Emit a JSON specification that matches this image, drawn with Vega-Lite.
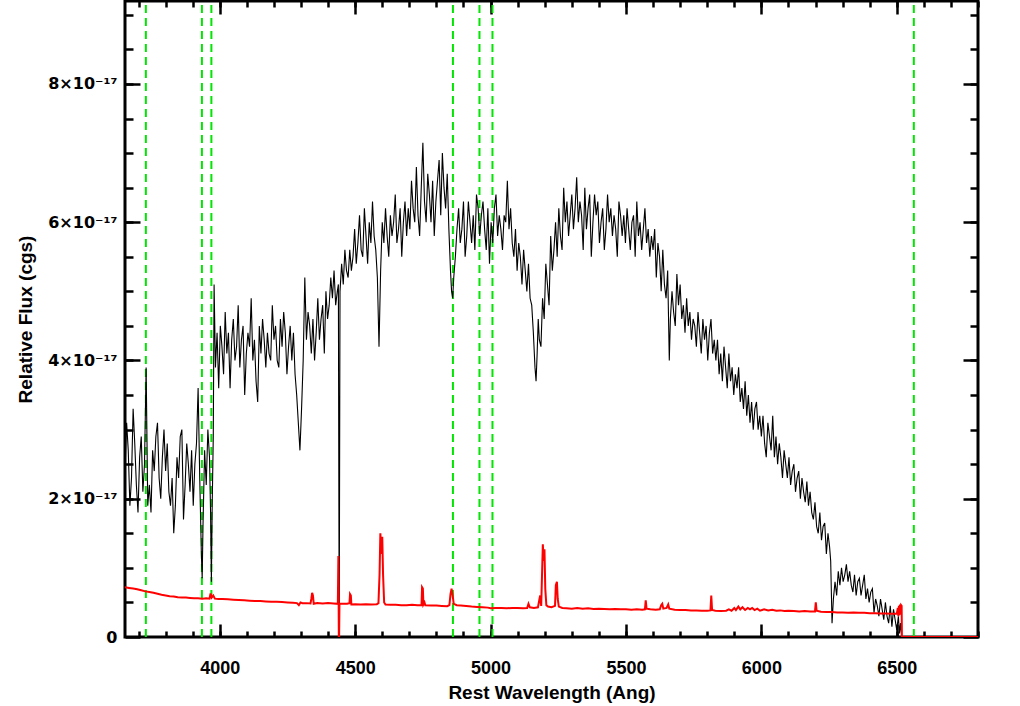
{
"$schema": "https://vega.github.io/schema/vega-lite/v6.json",
"width": 853,
"height": 636,
"autosize": "none",
"padding": {"left": 125, "top": 1, "right": 42, "bottom": 69},
"background": "white",
"config": {
"view": {"stroke": "black", "strokeWidth": 3},
"axis": {"domain": false, "grid": false, "tickColor": "black", "tickWidth": 2.5, "labelFont": "Liberation Sans", "labelFontWeight": "bold", "labelFontSize": 18, "labelColor": "black", "titleFont": "Liberation Sans", "titleFontWeight": "bold", "titleFontSize": 19, "titleColor": "black", "labelFlush": false, "labelOverlap": false}
},
"datasets": {
"lines": [{"w":3727},{"w":3934},{"w":3969},{"w":4861},{"w":4959},{"w":5007},{"w":6563}],
"spec": [
{"w":3650,"f":2.4},{"w":3656,"f":3.1},{"w":3662,"f":2.7},{"w":3668,"f":1.9},{"w":3674,"f":2.3},{"w":3680,"f":3.3},{"w":3686,"f":2.8},{"w":3692,"f":2.2},{"w":3698,"f":1.8},{"w":3704,"f":2.6},
{"w":3710,"f":2.9},{"w":3716,"f":2.1},{"w":3722,"f":2.5},{"w":3728,"f":3.9},{"w":3734,"f":1.9},{"w":3740,"f":2.2},{"w":3746,"f":1.8},{"w":3752,"f":2.7},{"w":3758,"f":2.4},{"w":3764,"f":2.9},
{"w":3770,"f":3.1},{"w":3776,"f":2.3},{"w":3782,"f":2.0},{"w":3788,"f":2.6},{"w":3794,"f":3.0},{"w":3800,"f":2.4},{"w":3806,"f":2.8},{"w":3812,"f":2.1},{"w":3818,"f":1.9},{"w":3824,"f":2.3},
{"w":3830,"f":1.5},{"w":3836,"f":1.9},{"w":3842,"f":2.6},{"w":3848,"f":2.3},{"w":3854,"f":2.9},{"w":3860,"f":3.0},{"w":3866,"f":1.7},{"w":3872,"f":2.2},{"w":3878,"f":2.8},{"w":3884,"f":2.5},
{"w":3890,"f":2.1},{"w":3896,"f":2.7},{"w":3902,"f":1.9},{"w":3908,"f":2.5},{"w":3914,"f":2.8},{"w":3920,"f":3.6},{"w":3926,"f":2.3},{"w":3932,"f":1.2},{"w":3935,"f":0.85},{"w":3938,"f":1.6},
{"w":3944,"f":2.7},{"w":3950,"f":2.2},{"w":3956,"f":3.0},{"w":3962,"f":2.6},{"w":3966,"f":1.8},{"w":3969,"f":0.8},{"w":3972,"f":1.9},{"w":3976,"f":2.9},{"w":3979,"f":5.1},{"w":3984,"f":3.9},
{"w":3990,"f":4.4},{"w":3996,"f":3.6},{"w":4002,"f":4.5},{"w":4008,"f":4.2},{"w":4014,"f":3.8},{"w":4020,"f":4.7},{"w":4026,"f":4.1},{"w":4032,"f":4.4},{"w":4038,"f":3.6},{"w":4044,"f":4.3},
{"w":4050,"f":4.6},{"w":4056,"f":4.0},{"w":4062,"f":4.2},{"w":4068,"f":4.8},{"w":4074,"f":3.9},{"w":4080,"f":4.3},{"w":4086,"f":4.5},{"w":4092,"f":3.5},{"w":4098,"f":4.1},{"w":4104,"f":4.4},
{"w":4110,"f":4.2},{"w":4116,"f":4.9},{"w":4122,"f":4.0},{"w":4128,"f":4.3},{"w":4134,"f":3.7},{"w":4140,"f":3.4},{"w":4146,"f":4.5},{"w":4152,"f":4.1},{"w":4158,"f":4.6},{"w":4164,"f":4.3},
{"w":4170,"f":3.9},{"w":4176,"f":4.4},{"w":4182,"f":4.1},{"w":4188,"f":4.0},{"w":4194,"f":4.8},{"w":4200,"f":4.3},{"w":4206,"f":4.5},{"w":4212,"f":4.0},{"w":4218,"f":3.9},{"w":4224,"f":4.6},
{"w":4230,"f":4.2},{"w":4236,"f":4.7},{"w":4242,"f":4.4},{"w":4248,"f":3.8},{"w":4254,"f":4.2},{"w":4260,"f":4.5},{"w":4266,"f":4.0},{"w":4272,"f":4.4},{"w":4278,"f":3.8},{"w":4284,"f":3.5},
{"w":4290,"f":3.1},{"w":4296,"f":2.7},{"w":4302,"f":3.3},{"w":4308,"f":4.0},{"w":4314,"f":5.2},{"w":4320,"f":4.3},{"w":4326,"f":4.7},{"w":4332,"f":4.5},{"w":4338,"f":4.1},{"w":4344,"f":4.6},
{"w":4350,"f":4.0},{"w":4356,"f":4.4},{"w":4362,"f":4.9},{"w":4368,"f":4.3},{"w":4374,"f":4.6},{"w":4380,"f":4.8},{"w":4386,"f":4.1},{"w":4392,"f":5.0},{"w":4398,"f":4.6},{"w":4404,"f":4.8},
{"w":4410,"f":5.2},{"w":4416,"f":4.9},{"w":4422,"f":5.3},{"w":4428,"f":4.8},{"w":4434,"f":5.0},{"w":4438,"f":5.1},{"w":4441,"f":0.0},{"w":4444,"f":5.0},{"w":4450,"f":5.4},{"w":4456,"f":5.1},
{"w":4462,"f":5.6},{"w":4468,"f":5.3},{"w":4474,"f":5.2},{"w":4480,"f":5.6},{"w":4486,"f":5.3},{"w":4492,"f":5.5},{"w":4498,"f":5.9},{"w":4504,"f":5.4},{"w":4510,"f":5.7},{"w":4516,"f":6.1},
{"w":4522,"f":5.6},{"w":4528,"f":5.5},{"w":4534,"f":6.2},{"w":4540,"f":5.8},{"w":4546,"f":5.4},{"w":4552,"f":6.0},{"w":4558,"f":5.7},{"w":4564,"f":6.3},{"w":4570,"f":5.8},{"w":4576,"f":5.6},
{"w":4582,"f":5.2},{"w":4588,"f":4.2},{"w":4594,"f":5.3},{"w":4600,"f":6.0},{"w":4606,"f":5.7},{"w":4612,"f":6.2},{"w":4618,"f":5.8},{"w":4624,"f":5.5},{"w":4630,"f":6.1},{"w":4636,"f":5.8},
{"w":4642,"f":6.0},{"w":4648,"f":6.4},{"w":4654,"f":5.7},{"w":4660,"f":5.9},{"w":4666,"f":6.2},{"w":4672,"f":5.5},{"w":4678,"f":6.0},{"w":4684,"f":6.3},{"w":4690,"f":5.8},{"w":4696,"f":6.2},
{"w":4702,"f":5.9},{"w":4708,"f":6.6},{"w":4714,"f":6.2},{"w":4720,"f":6.0},{"w":4726,"f":6.8},{"w":4732,"f":6.1},{"w":4738,"f":5.8},{"w":4744,"f":6.5},{"w":4750,"f":7.15},{"w":4756,"f":6.3},
{"w":4762,"f":6.0},{"w":4768,"f":6.7},{"w":4774,"f":6.4},{"w":4780,"f":6.0},{"w":4786,"f":6.6},{"w":4792,"f":5.8},{"w":4798,"f":6.3},{"w":4804,"f":6.6},{"w":4810,"f":6.9},{"w":4816,"f":6.1},
{"w":4822,"f":7.0},{"w":4828,"f":6.5},{"w":4834,"f":6.2},{"w":4840,"f":6.7},{"w":4846,"f":5.9},{"w":4852,"f":5.3},{"w":4856,"f":5.0},{"w":4860,"f":4.9},{"w":4864,"f":5.2},{"w":4870,"f":5.5},
{"w":4876,"f":5.9},{"w":4882,"f":6.2},{"w":4888,"f":5.7},{"w":4894,"f":5.9},{"w":4900,"f":6.3},{"w":4906,"f":5.5},{"w":4912,"f":5.8},{"w":4918,"f":6.3},{"w":4924,"f":6.0},{"w":4930,"f":5.7},
{"w":4936,"f":6.1},{"w":4942,"f":5.6},{"w":4948,"f":6.4},{"w":4954,"f":6.2},{"w":4960,"f":5.8},{"w":4966,"f":6.1},{"w":4972,"f":6.3},{"w":4978,"f":5.9},{"w":4984,"f":5.6},{"w":4990,"f":6.2},
{"w":4996,"f":5.4},{"w":5002,"f":6.0},{"w":5008,"f":5.7},{"w":5014,"f":6.2},{"w":5020,"f":6.4},{"w":5026,"f":5.8},{"w":5032,"f":6.1},{"w":5038,"f":5.9},{"w":5044,"f":5.6},{"w":5050,"f":6.1},
{"w":5056,"f":6.0},{"w":5062,"f":6.6},{"w":5068,"f":5.9},{"w":5074,"f":6.2},{"w":5080,"f":5.7},{"w":5086,"f":5.5},{"w":5092,"f":5.9},{"w":5098,"f":5.3},{"w":5104,"f":5.7},{"w":5110,"f":5.5},
{"w":5116,"f":5.1},{"w":5122,"f":5.6},{"w":5128,"f":5.3},{"w":5134,"f":5.0},{"w":5140,"f":5.4},{"w":5146,"f":4.9},{"w":5152,"f":4.8},{"w":5158,"f":4.4},{"w":5164,"f":3.9},{"w":5168,"f":3.7},
{"w":5172,"f":4.1},{"w":5176,"f":4.6},{"w":5180,"f":4.3},{"w":5186,"f":4.2},{"w":5192,"f":4.9},{"w":5198,"f":4.6},{"w":5204,"f":5.4},{"w":5210,"f":5.1},{"w":5216,"f":4.8},{"w":5222,"f":5.8},
{"w":5228,"f":5.3},{"w":5234,"f":5.6},{"w":5240,"f":6.0},{"w":5246,"f":5.5},{"w":5252,"f":6.2},{"w":5258,"f":5.8},{"w":5264,"f":5.6},{"w":5270,"f":6.5},{"w":5276,"f":6.0},{"w":5282,"f":6.3},
{"w":5288,"f":5.8},{"w":5294,"f":6.1},{"w":5300,"f":6.4},{"w":5306,"f":5.9},{"w":5312,"f":6.2},{"w":5318,"f":6.65},{"w":5324,"f":6.0},{"w":5330,"f":6.3},{"w":5336,"f":6.1},{"w":5342,"f":5.6},
{"w":5348,"f":6.5},{"w":5354,"f":5.9},{"w":5360,"f":6.2},{"w":5366,"f":6.4},{"w":5372,"f":5.5},{"w":5378,"f":6.0},{"w":5384,"f":6.4},{"w":5390,"f":6.1},{"w":5396,"f":6.3},{"w":5402,"f":5.7},
{"w":5408,"f":6.0},{"w":5414,"f":6.2},{"w":5420,"f":5.6},{"w":5426,"f":5.9},{"w":5432,"f":6.4},{"w":5438,"f":6.0},{"w":5444,"f":6.2},{"w":5450,"f":5.8},{"w":5456,"f":6.1},{"w":5462,"f":5.9},
{"w":5468,"f":5.5},{"w":5474,"f":6.3},{"w":5480,"f":6.1},{"w":5486,"f":5.8},{"w":5492,"f":6.1},{"w":5498,"f":5.7},{"w":5504,"f":6.2},{"w":5510,"f":5.9},{"w":5516,"f":5.6},{"w":5522,"f":6.0},
{"w":5528,"f":6.1},{"w":5534,"f":5.5},{"w":5540,"f":6.3},{"w":5546,"f":5.8},{"w":5552,"f":6.0},{"w":5558,"f":5.6},{"w":5564,"f":5.9},{"w":5570,"f":6.2},{"w":5576,"f":5.7},{"w":5582,"f":5.9},
{"w":5588,"f":5.5},{"w":5594,"f":5.8},{"w":5600,"f":5.6},{"w":5606,"f":5.9},{"w":5612,"f":5.2},{"w":5618,"f":5.7},{"w":5624,"f":5.5},{"w":5630,"f":5.0},{"w":5636,"f":5.6},{"w":5642,"f":5.1},
{"w":5648,"f":4.9},{"w":5654,"f":5.3},{"w":5660,"f":4.0},{"w":5664,"f":4.6},{"w":5670,"f":5.0},{"w":5676,"f":4.7},{"w":5682,"f":4.5},{"w":5688,"f":5.25},{"w":5694,"f":4.8},{"w":5700,"f":5.1},
{"w":5706,"f":4.6},{"w":5712,"f":4.8},{"w":5718,"f":4.4},{"w":5724,"f":4.9},{"w":5730,"f":4.5},{"w":5736,"f":4.7},{"w":5742,"f":4.3},{"w":5748,"f":4.6},{"w":5754,"f":4.5},{"w":5760,"f":4.2},
{"w":5766,"f":4.7},{"w":5772,"f":4.4},{"w":5778,"f":4.1},{"w":5784,"f":4.6},{"w":5790,"f":4.3},{"w":5796,"f":4.5},{"w":5802,"f":4.0},{"w":5808,"f":4.4},{"w":5814,"f":4.6},{"w":5820,"f":4.1},
{"w":5826,"f":4.3},{"w":5832,"f":4.0},{"w":5838,"f":4.3},{"w":5844,"f":3.8},{"w":5850,"f":4.1},{"w":5856,"f":3.7},{"w":5862,"f":4.2},{"w":5868,"f":3.9},{"w":5874,"f":3.6},{"w":5880,"f":4.1},
{"w":5886,"f":3.7},{"w":5892,"f":3.9},{"w":5898,"f":3.5},{"w":5904,"f":3.8},{"w":5910,"f":3.6},{"w":5916,"f":3.9},{"w":5922,"f":3.4},{"w":5928,"f":3.6},{"w":5934,"f":3.3},{"w":5940,"f":3.7},
{"w":5946,"f":3.2},{"w":5952,"f":3.5},{"w":5958,"f":3.1},{"w":5964,"f":3.4},{"w":5970,"f":3.0},{"w":5976,"f":3.3},{"w":5982,"f":3.4},{"w":5988,"f":3.0},{"w":5994,"f":3.2},{"w":6000,"f":2.9},
{"w":6006,"f":3.2},{"w":6012,"f":2.8},{"w":6018,"f":2.6},{"w":6024,"f":3.1},{"w":6030,"f":2.9},{"w":6036,"f":2.7},{"w":6042,"f":3.2},{"w":6048,"f":2.6},{"w":6054,"f":2.9},{"w":6060,"f":2.5},
{"w":6066,"f":2.8},{"w":6072,"f":2.6},{"w":6078,"f":2.3},{"w":6084,"f":2.7},{"w":6090,"f":2.5},{"w":6096,"f":2.3},{"w":6102,"f":2.6},{"w":6108,"f":2.2},{"w":6114,"f":2.4},{"w":6120,"f":2.5},
{"w":6126,"f":2.1},{"w":6132,"f":2.3},{"w":6138,"f":2.4},{"w":6144,"f":2.0},{"w":6150,"f":2.3},{"w":6156,"f":2.1},{"w":6162,"f":1.95},{"w":6168,"f":2.25},{"w":6174,"f":1.9},{"w":6180,"f":2.1},
{"w":6186,"f":1.8},{"w":6192,"f":1.7},{"w":6198,"f":1.95},{"w":6204,"f":1.6},{"w":6210,"f":1.5},{"w":6216,"f":1.8},{"w":6222,"f":1.4},{"w":6228,"f":1.6},{"w":6234,"f":1.65},{"w":6240,"f":1.2},
{"w":6246,"f":1.5},{"w":6252,"f":1.3},{"w":6256,"f":1.1},{"w":6261,"f":0.2},{"w":6266,"f":0.55},{"w":6272,"f":0.8},{"w":6278,"f":0.6},{"w":6284,"f":0.95},{"w":6290,"f":0.75},{"w":6296,"f":1.0},
{"w":6302,"f":0.8},{"w":6308,"f":0.9},{"w":6314,"f":1.05},{"w":6320,"f":0.8},{"w":6326,"f":0.95},{"w":6332,"f":0.75},{"w":6338,"f":0.65},{"w":6344,"f":0.9},{"w":6350,"f":0.6},{"w":6356,"f":0.8},
{"w":6362,"f":0.85},{"w":6368,"f":0.6},{"w":6374,"f":0.75},{"w":6380,"f":0.9},{"w":6386,"f":0.55},{"w":6392,"f":0.7},{"w":6398,"f":0.5},{"w":6404,"f":0.65},{"w":6410,"f":0.7},{"w":6416,"f":0.35},
{"w":6422,"f":0.55},{"w":6428,"f":0.45},{"w":6434,"f":0.3},{"w":6440,"f":0.55},{"w":6446,"f":0.4},{"w":6452,"f":0.25},{"w":6458,"f":0.5},{"w":6464,"f":0.3},{"w":6470,"f":0.2},{"w":6476,"f":0.45},
{"w":6482,"f":0.15},{"w":6488,"f":0.4},{"w":6494,"f":0.25},{"w":6500,"f":0.1},{"w":6506,"f":0.3},{"w":6510,"f":0.05},{"w":6514,"f":0.2},{"w":6518,"f":0.0}
],
"err": [
{"w":3650,"e":0.72},{"w":3665,"e":0.71},{"w":3680,"e":0.70},{"w":3695,"e":0.69},{"w":3710,"e":0.675},{"w":3725,"e":0.66},{"w":3740,"e":0.65},{"w":3755,"e":0.64},{"w":3770,"e":0.625},{"w":3785,"e":0.61},{"w":3800,"e":0.60},{"w":3815,"e":0.59},{"w":3830,"e":0.585},{"w":3845,"e":0.575},{"w":3860,"e":0.57},{"w":3875,"e":0.57},{"w":3890,"e":0.565},{"w":3905,"e":0.56},{"w":3920,"e":0.56},{"w":3935,"e":0.555},{"w":3950,"e":0.56},{"w":3962,"e":0.555},{"w":3966,"e":0.63},{"w":3970,"e":0.57},{"w":3976,"e":0.6},{"w":3982,"e":0.555},{"w":3995,"e":0.55},
{"w":4010,"e":0.55},{"w":4030,"e":0.545},{"w":4050,"e":0.54},{"w":4070,"e":0.535},{"w":4090,"e":0.53},{"w":4110,"e":0.525},{"w":4130,"e":0.52},{"w":4150,"e":0.52},{"w":4170,"e":0.515},{"w":4190,"e":0.51},{"w":4210,"e":0.51},{"w":4230,"e":0.505},{"w":4250,"e":0.50},{"w":4270,"e":0.495},{"w":4285,"e":0.49},{"w":4292,"e":0.46},{"w":4298,"e":0.5},{"w":4305,"e":0.49},{"w":4320,"e":0.49},{"w":4335,"e":0.485},{"w":4338,"e":0.55},{"w":4341,"e":0.64},{"w":4344,"e":0.6},{"w":4347,"e":0.48},{"w":4360,"e":0.49},{"w":4380,"e":0.485},{"w":4400,"e":0.49},{"w":4420,"e":0.485},{"w":4436,"e":0.48},{"w":4438,"e":1.17},{"w":4440,"e":-0.2},{"w":4442,"e":0.48},{"w":4455,"e":0.48},{"w":4470,"e":0.48},{"w":4479,"e":0.49},{"w":4481,"e":0.62},{"w":4484,"e":0.6},{"w":4486,"e":0.47},
{"w":4500,"e":0.475},{"w":4520,"e":0.47},{"w":4540,"e":0.475},{"w":4560,"e":0.47},{"w":4580,"e":0.475},{"w":4586,"e":0.49},{"w":4590,"e":0.9},{"w":4593,"e":1.5},{"w":4597,"e":1.2},{"w":4600,"e":1.45},{"w":4603,"e":0.9},{"w":4607,"e":0.5},{"w":4612,"e":0.47},{"w":4630,"e":0.465},{"w":4650,"e":0.465},{"w":4670,"e":0.46},{"w":4690,"e":0.46},{"w":4710,"e":0.465},{"w":4730,"e":0.46},{"w":4745,"e":0.46},{"w":4747,"e":0.72},{"w":4750,"e":0.7},{"w":4752,"e":0.47},{"w":4756,"e":0.5},{"w":4759,"e":0.46},{"w":4780,"e":0.455},{"w":4800,"e":0.455},{"w":4820,"e":0.45},{"w":4840,"e":0.445},{"w":4848,"e":0.46},{"w":4852,"e":0.62},{"w":4856,"e":0.7},{"w":4860,"e":0.6},{"w":4864,"e":0.48},{"w":4875,"e":0.46},{"w":4890,"e":0.455},{"w":4910,"e":0.45},{"w":4930,"e":0.44},{"w":4950,"e":0.435},{"w":4970,"e":0.43},{"w":4990,"e":0.425},
{"w":5000,"e":0.415},{"w":5020,"e":0.42},{"w":5040,"e":0.42},{"w":5060,"e":0.415},{"w":5080,"e":0.42},{"w":5100,"e":0.42},{"w":5120,"e":0.415},{"w":5135,"e":0.42},{"w":5140,"e":0.48},{"w":5145,"e":0.43},{"w":5160,"e":0.42},{"w":5175,"e":0.43},{"w":5183,"e":0.6},{"w":5187,"e":0.45},{"w":5190,"e":0.9},{"w":5193,"e":1.34},{"w":5196,"e":1.1},{"w":5199,"e":1.27},{"w":5202,"e":0.7},{"w":5206,"e":0.46},{"w":5212,"e":0.44},{"w":5225,"e":0.43},{"w":5238,"e":0.45},{"w":5241,"e":0.75},{"w":5245,"e":0.8},{"w":5248,"e":0.55},{"w":5252,"e":0.44},{"w":5265,"e":0.42},{"w":5280,"e":0.415},
{"w":5300,"e":0.41},{"w":5320,"e":0.42},{"w":5340,"e":0.41},{"w":5360,"e":0.415},{"w":5380,"e":0.405},{"w":5400,"e":0.41},{"w":5420,"e":0.405},{"w":5440,"e":0.4},{"w":5460,"e":0.405},{"w":5480,"e":0.4},{"w":5500,"e":0.40},{"w":5520,"e":0.395},{"w":5540,"e":0.4},{"w":5560,"e":0.395},{"w":5570,"e":0.4},{"w":5573,"e":0.53},{"w":5576,"e":0.41},{"w":5590,"e":0.4},{"w":5610,"e":0.395},{"w":5625,"e":0.4},{"w":5630,"e":0.46},{"w":5634,"e":0.48},{"w":5638,"e":0.41},{"w":5650,"e":0.42},{"w":5656,"e":0.47},{"w":5660,"e":0.41},{"w":5680,"e":0.395},
{"w":5700,"e":0.39},{"w":5720,"e":0.39},{"w":5740,"e":0.385},{"w":5760,"e":0.385},{"w":5780,"e":0.38},{"w":5800,"e":0.38},{"w":5812,"e":0.385},{"w":5815,"e":0.6},{"w":5818,"e":0.39},{"w":5830,"e":0.38},{"w":5850,"e":0.375},{"w":5870,"e":0.38},{"w":5880,"e":0.4},{"w":5890,"e":0.38},{"w":5900,"e":0.42},{"w":5906,"e":0.39},{"w":5915,"e":0.44},{"w":5922,"e":0.4},{"w":5930,"e":0.43},{"w":5940,"e":0.39},{"w":5950,"e":0.42},{"w":5958,"e":0.4},{"w":5966,"e":0.42},{"w":5975,"e":0.39},{"w":5985,"e":0.41},{"w":5995,"e":0.38},
{"w":6010,"e":0.4},{"w":6025,"e":0.385},{"w":6040,"e":0.395},{"w":6055,"e":0.38},{"w":6070,"e":0.385},{"w":6085,"e":0.375},{"w":6100,"e":0.38},{"w":6120,"e":0.375},{"w":6140,"e":0.37},{"w":6160,"e":0.375},{"w":6180,"e":0.37},{"w":6198,"e":0.37},{"w":6201,"e":0.5},{"w":6204,"e":0.38},{"w":6220,"e":0.365},{"w":6240,"e":0.36},{"w":6260,"e":0.36},{"w":6280,"e":0.355},{"w":6300,"e":0.355},{"w":6320,"e":0.35},{"w":6340,"e":0.355},{"w":6360,"e":0.35},{"w":6380,"e":0.35},{"w":6400,"e":0.345},{"w":6420,"e":0.345},{"w":6440,"e":0.34},{"w":6460,"e":0.34},{"w":6480,"e":0.335},{"w":6500,"e":0.335},{"w":6504,"e":0.42},{"w":6506,"e":0.3},{"w":6508,"e":0.45},{"w":6510,"e":0.32},{"w":6512,"e":0.47},{"w":6514,"e":0.33},{"w":6516,"e":0.46},{"w":6518,"e":0.45},{"w":6519,"e":0.0},{"w":6600,"e":0.0},{"w":6700,"e":0.0},{"w":6800,"e":0.0}
]
},
"layer": [
{
"data": {"name": "lines"},
"mark": {"type": "rule", "color": "#00e600", "strokeWidth": 2, "strokeDash": [8, 5]},
"encoding": {
"x": {"field": "w", "type": "quantitative", "scale": {"domain": [3650, 6800], "nice": false, "zero": false},
"axis": {"orient": "bottom", "values": [4000, 4500, 5000, 5500, 6000, 6500], "tickSize": -13, "labelPadding": 35, "title": "Rest Wavelength (Ang)", "titlePadding": 6, "format": "d"}},
"y": {"datum": 0, "type": "quantitative", "scale": {"domain": [0, 9.2], "nice": false, "zero": false},
"axis": {"orient": "right", "values": [0, 2, 4, 6, 8], "tickSize": -15, "labels": false, "title": null}},
"y2": {"datum": 9.2}
}
},
{
"data": {"name": "spec"},
"mark": {"type": "line", "color": "black", "strokeWidth": 1.1, "clip": true},
"encoding": {
"x": {"field": "w", "type": "quantitative", "scale": {"domain": [3650, 6800], "nice": false, "zero": false},
"axis": {"orient": "bottom", "values": [3700,3800,3900,4000,4100,4200,4300,4400,4500,4600,4700,4800,4900,5000,5100,5200,5300,5400,5500,5600,5700,5800,5900,6000,6100,6200,6300,6400,6500,6600,6700,6800], "tickSize": -6, "labels": false, "title": null}},
"y": {"field": "f", "type": "quantitative", "scale": {"domain": [0, 9.2], "nice": false, "zero": false},
"axis": {"orient": "left", "values": [0, 2, 4, 6, 8], "tickSize": -15, "labelPadding": 23, "labelFont": "DejaVu Sans", "labelFontSize": 16, "labelExpr": "datum.value == 0 ? '0' : datum.value + '×10⁻¹⁷'", "title": "Relative Flux (cgs)", "titlePadding": 12}}
}
},
{
"data": {"name": "err"},
"transform": [{"filter": "datum.w <= 6519"}],
"mark": {"type": "line", "color": "#ff0000", "strokeWidth": 2, "clip": true},
"encoding": {
"x": {"field": "w", "type": "quantitative", "scale": {"domain": [3650, 6800], "nice": false, "zero": false},
"axis": {"orient": "top", "values": [4000, 4500, 5000, 5500, 6000, 6500], "tickSize": -13, "labels": false, "title": null}},
"y": {"field": "e", "type": "quantitative", "scale": {"domain": [0, 9.2], "nice": false, "zero": false},
"axis": {"orient": "left", "values": [0.5,1,1.5,2,2.5,3,3.5,4,4.5,5,5.5,6,6.5,7,7.5,8,8.5,9], "tickSize": -8, "labels": false, "title": null}}
}
},
{
"data": {"name": "err"},
"transform": [{"filter": "datum.w >= 6519"}],
"mark": {"type": "line", "color": "#ff0000", "strokeWidth": 2, "clip": true},
"encoding": {
"x": {"field": "w", "type": "quantitative", "scale": {"domain": [3650, 6800], "nice": false, "zero": false},
"axis": {"orient": "top", "values": [3700,3800,3900,4000,4100,4200,4300,4400,4500,4600,4700,4800,4900,5000,5100,5200,5300,5400,5500,5600,5700,5800,5900,6000,6100,6200,6300,6400,6500,6600,6700,6800], "tickSize": -6, "labels": false, "title": null}},
"y": {"field": "e", "type": "quantitative", "scale": {"domain": [0, 9.2], "nice": false, "zero": false},
"axis": {"orient": "right", "values": [0.5,1,1.5,2,2.5,3,3.5,4,4.5,5,5.5,6,6.5,7,7.5,8,8.5,9], "tickSize": -8, "labels": false, "title": null}}
}
}
],
"resolve": {"axis": {"x": "independent", "y": "independent"}}
}
